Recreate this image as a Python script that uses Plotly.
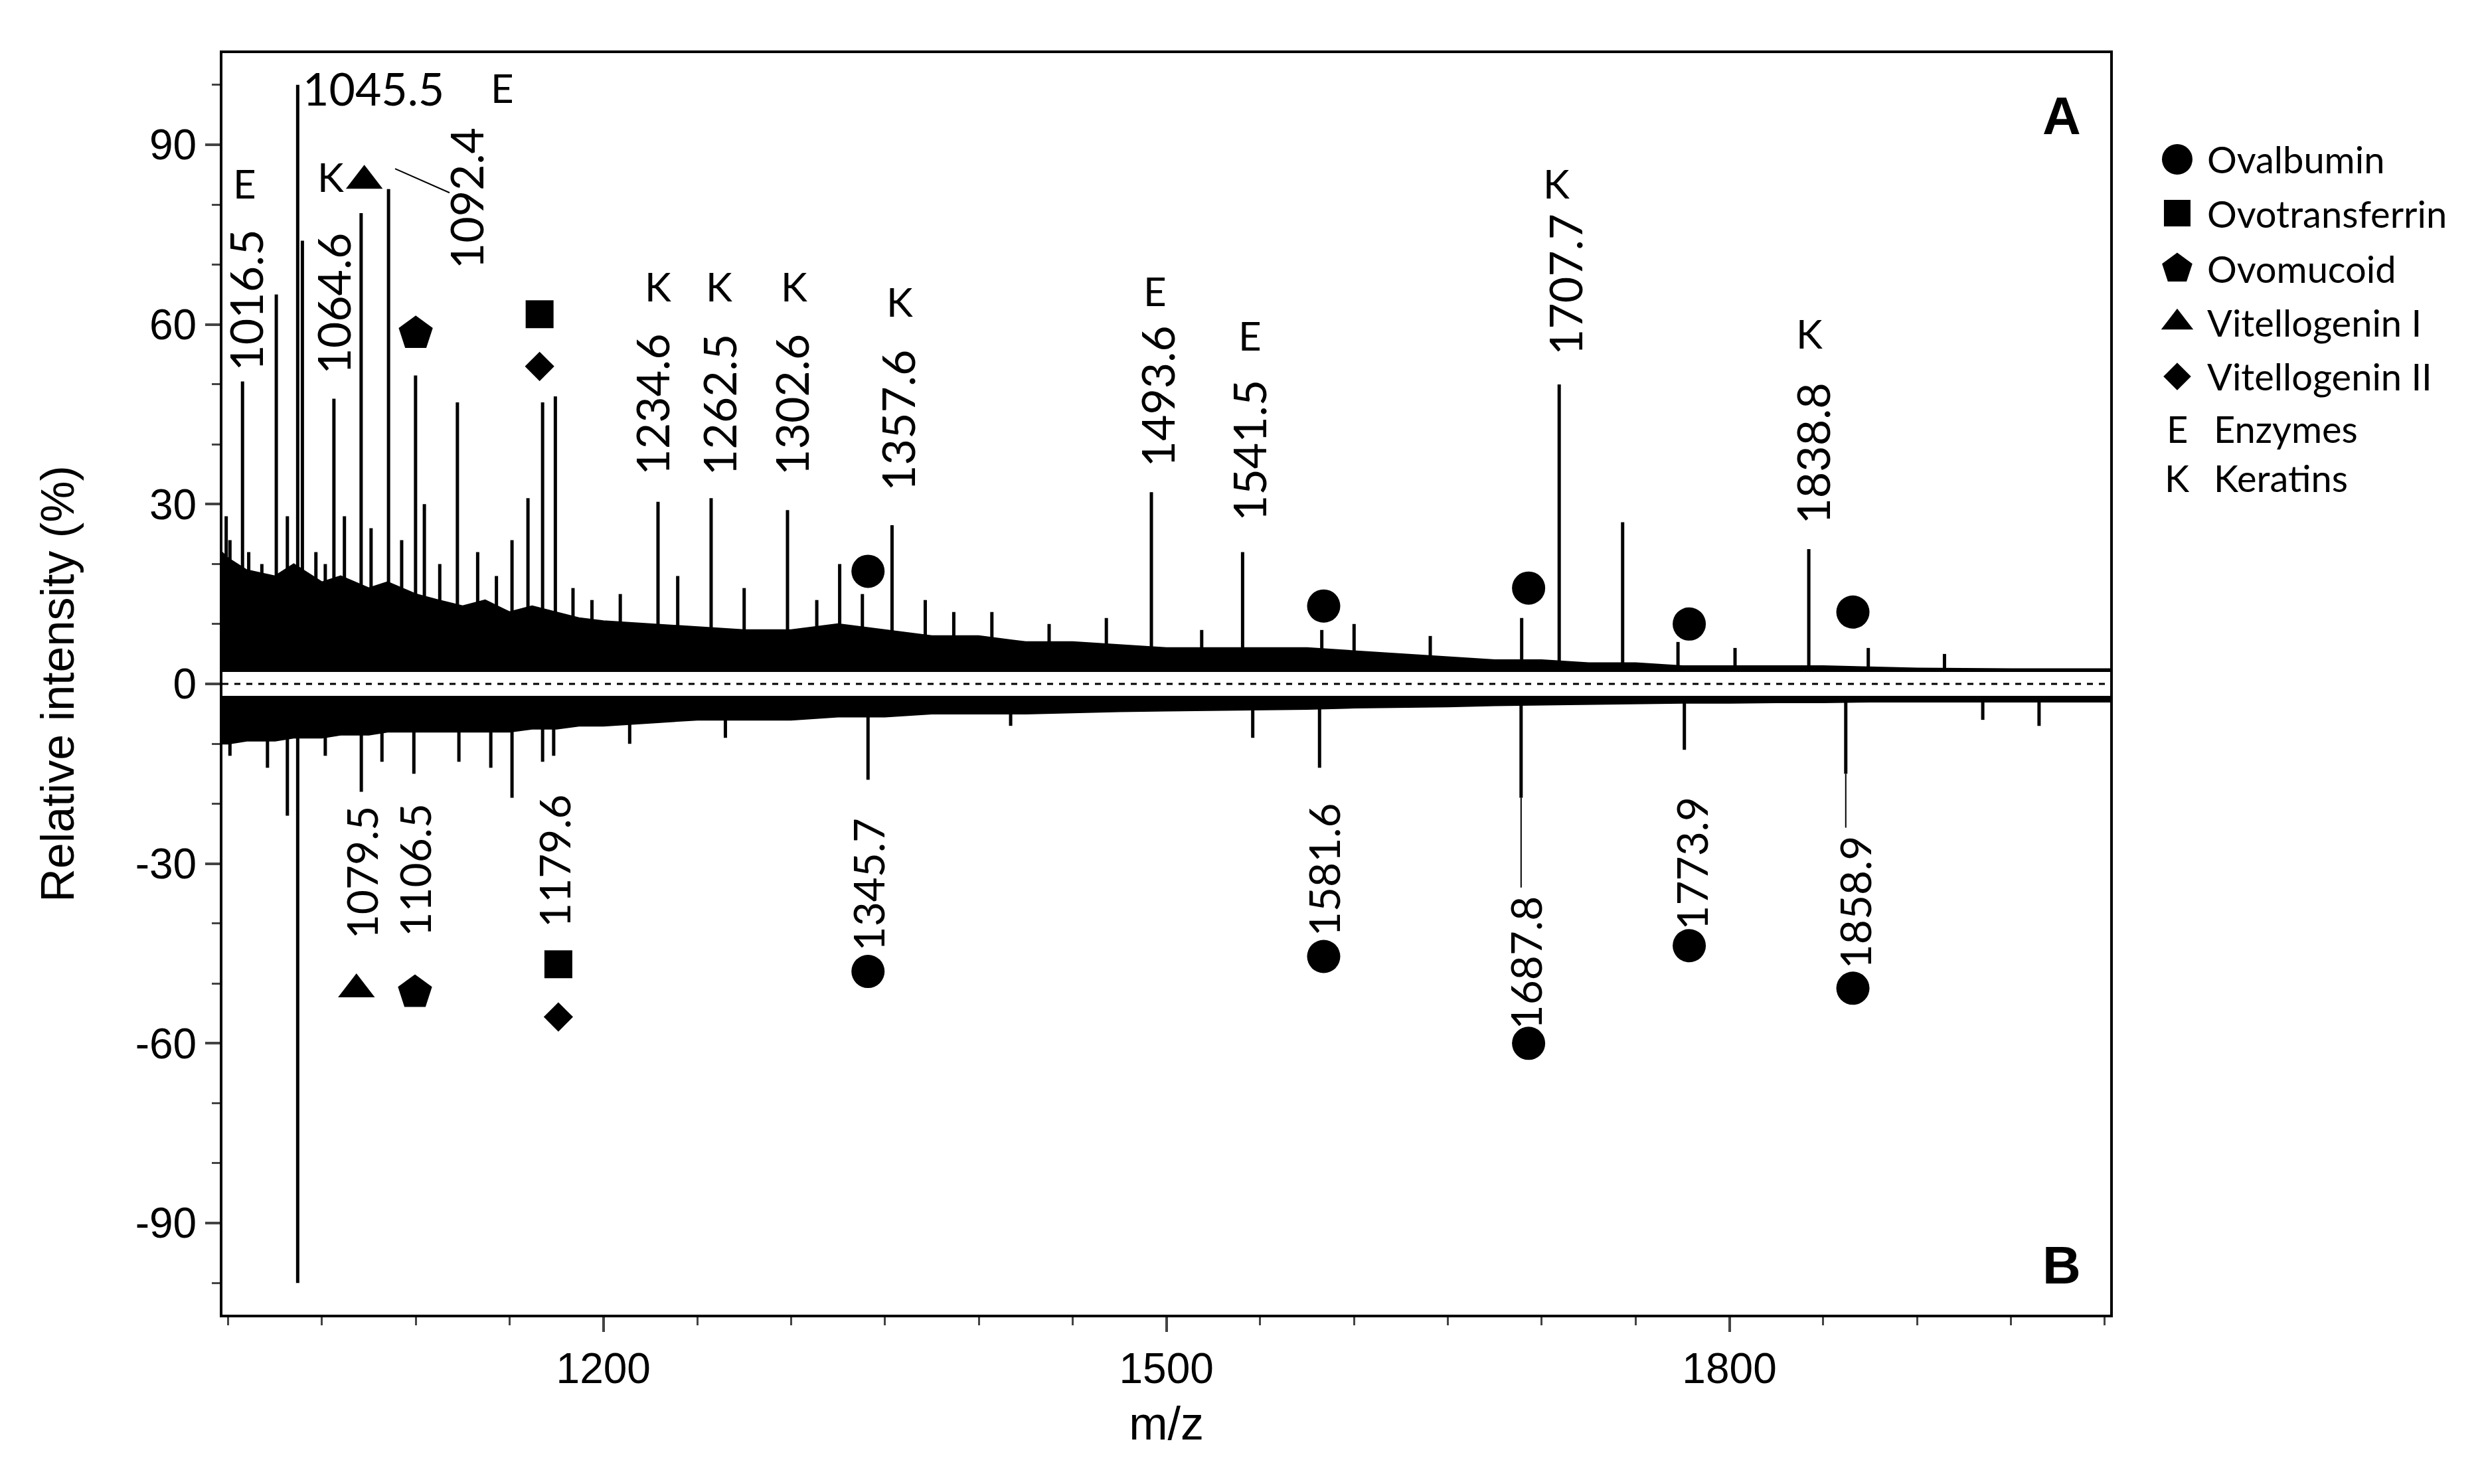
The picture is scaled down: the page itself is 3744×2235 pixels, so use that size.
import plotly.graph_objects as go

# ---- data ----
# background envelope of the upper (A) and lower (B) spectra
env_mz = [990, 1000, 1010, 1025, 1035, 1050, 1060, 1075, 1085, 1100, 1112, 1125, 1137, 1150,
          1162, 1175, 1187, 1200, 1225, 1250, 1275, 1300, 1325, 1350, 1375, 1400, 1425, 1450,
          1475, 1500, 1525, 1550, 1575, 1600, 1625, 1650, 1675, 1700, 1725, 1750, 1775, 1800,
          1825, 1850, 1875, 1900, 1950, 2005]
env_top = [24, 21, 19, 18, 20, 17, 18, 16, 17, 15, 14, 13, 14, 12, 13, 12, 11, 10.5, 10, 9.5,
           9, 9, 10, 9, 8, 8, 7, 7, 6.5, 6, 6, 6, 6, 5.5, 5, 4.5, 4, 4, 3.5, 3.5, 3, 3, 3, 3,
           2.8, 2.6, 2.5, 2.5]
env_bot = [-10, -10, -9.5, -9.5, -9, -9, -8.5, -8.5, -8, -8, -8, -8, -8, -8, -7.5, -7.5, -7,
           -7, -6.5, -6, -6, -6, -5.5, -5.5, -5, -5, -5, -4.8, -4.6, -4.5, -4.4, -4.3, -4.2,
           -4, -3.9, -3.8, -3.6, -3.5, -3.4, -3.3, -3.2, -3.2, -3.1, -3.1, -3, -3, -3, -3]

# stick peaks, at the positions where they sit on the drawn m/z axis
top_mz = [999, 1001, 1007.7, 1011, 1018, 1025.7, 1031.6, 1037.1, 1039.6, 1046.8, 1051.8,
          1056.4, 1062, 1070.9, 1076.2, 1085.5, 1092.5, 1099.9, 1104.6, 1112.8, 1122.2, 1133,
          1143, 1151.3, 1159.8, 1167.6, 1174.4, 1183.8, 1193.9, 1209, 1229.1, 1239.6, 1257.4,
          1275, 1298.1, 1313.7, 1325.9, 1338, 1353.8, 1371.5, 1386.7, 1407, 1437.5, 1468,
          1492, 1518.8, 1540.6, 1582.8, 1600, 1640.6, 1689.3, 1709.3, 1743.1, 1772.6, 1803,
          1842.3, 1874, 1914.6]
top_int = [28, 24, 50.5, 22, 20, 65, 28, 100, 74, 22, 20, 47.6, 28, 78.6, 26, 82.6, 24,
           51.5, 30, 20, 47, 22, 18, 24, 31, 47, 48, 16, 14, 15, 30.4, 18, 31, 16, 29, 14, 20,
           15, 26.5, 14, 12, 12, 10, 11, 32, 9, 22, 9, 10, 8, 11, 50, 27, 7, 6, 22.5, 6, 5]
bot_mz = [1001, 1021, 1031.6, 1037.1, 1051.8, 1071, 1082, 1099, 1123, 1140, 1151.3, 1167.6,
          1173.5, 1214, 1265, 1341, 1417, 1546, 1581.6, 1689, 1776, 1862, 1935, 1965]
bot_int = [-12, -14, -22, -100, -12, -18, -13, -15, -13, -14, -19, -13, -12, -10, -9, -16,
           -7, -9, -14, -19, -11, -15, -6, -7]

# peak labels
top_labels = ["1016.5", "1064.6", "1092.4", "1234.6", "1262.5", "1302.6", "1357.6",
              "1493.6", "1541.5", "1707.7", "1838.8"]
top_lab_x = [1009.4, 1055.6, 1126.5, 1225.6, 1261.5, 1300, 1356.4, 1495, 1543.6, 1712, 1844.4]
top_lab_y = [64, 63.5, 81, 46.6, 46.6, 46.6, 44, 48, 39, 66.7, 38.4]
bot_labels = ["1079.5", "1106.5", "1179.6", "1345.7", "1581.6", "1687.8", "1773.9", "1858.9"]
bot_lab_x = [1071, 1099.6, 1173.5, 1341, 1583.8, 1691.5, 1780, 1866.7]
bot_lab_y = [-31.5, -31, -29.5, -33.5, -31, -46.5, -30, -36.5]

# classification letters (E = enzyme, K = keratin)
tag_text = ["E", "E", "K", "E", "K", "K", "K", "K", "E", "E", "K", "K"]
tag_x = [1009, 1072, 1054.7, 1146, 1229, 1261.5, 1301.7, 1358, 1494, 1544.5, 1707.7, 1842.7]
tag_y = [83.6, 108.5, 84.7, 99.5, 66.4, 66.4, 66.4, 63.8, 65.6, 58.2, 83.6, 58.5]

# protein markers
ova_x = [1341, 1583.8, 1693, 1778.6, 1865.8, 1341, 1583.8, 1693, 1778.6, 1865.8]
ova_y = [18.8, 13, 16, 10, 12, -48, -45.5, -60, -43.7, -50.8]
tri_x = [1072.6, 1068.4]
tri_y = [84, -51]
pent_x = [1100, 1099.6]
pent_y = [58.5, -51.5]
sq_x = [1166, 1176]
sq_y = [61.7, -46.8]
dia_x = [1166, 1176]
dia_y = [53, -55.6]

legend_names = ["Ovalbumin", "Ovotransferrin", "Ovomucoid", "Vitellogenin I", "Vitellogenin II"]
legend_symbols = ["circle", "square", "pentagon", "triangle-up", "diamond"]
legend_sizes = [46, 40, 48, 42, 32]
legend_letters = ["E", "K"]
legend_letter_names = ["Enzymes", "Keratins"]
y_ticks = [-90, -60, -30, 0, 30, 60, 90]


def sticks(xs, ys, base):
    sx, sy = [], []
    for x, y in zip(xs, ys):
        sx += [x, x, None]
        sy += [base, y, None]
    return sx, sy


fig = go.Figure()

# upper spectrum
fig.add_trace(go.Scatter(x=env_mz, y=[2] * len(env_mz), mode="lines", line=dict(width=0),
                         showlegend=False))
fig.add_trace(go.Scatter(x=env_mz, y=env_top, mode="lines", line=dict(color="black", width=2),
                         fill="tonexty", fillcolor="black", showlegend=False))
sx, sy = sticks(top_mz, top_int, 2)
fig.add_trace(go.Scatter(x=sx, y=sy, mode="lines", line=dict(color="black", width=5),
                         showlegend=False))

# lower spectrum
fig.add_trace(go.Scatter(x=env_mz, y=[-2] * len(env_mz), mode="lines", line=dict(width=0),
                         showlegend=False))
fig.add_trace(go.Scatter(x=env_mz, y=env_bot, mode="lines", line=dict(color="black", width=2),
                         fill="tonexty", fillcolor="black", showlegend=False))
sx, sy = sticks(bot_mz, bot_int, -2)
fig.add_trace(go.Scatter(x=sx, y=sy, mode="lines", line=dict(color="black", width=5),
                         showlegend=False))

# leader lines
fig.add_trace(go.Scatter(x=[1089, 1118, None, 1689, 1689, None, 1862, 1862],
                         y=[86, 82, None, -19, -34, None, -15, -24],
                         mode="lines", line=dict(color="black", width=2), showlegend=False))

# markers
for xs, ys, sym, size in [(ova_x, ova_y, "circle", 50), (tri_x, tri_y, "triangle-up", 48),
                          (pent_x, pent_y, "pentagon", 54), (sq_x, sq_y, "square", 42),
                          (dia_x, dia_y, "diamond", 34)]:
    fig.add_trace(go.Scatter(x=xs, y=ys, mode="markers", cliponaxis=False,
                             marker=dict(symbol=sym, size=size, color="black"),
                             showlegend=False))

# labels
font_lab = dict(family="Lato, Open Sans, sans-serif", size=68, color="black")
for t, x, y in zip(top_labels, top_lab_x, top_lab_y):
    fig.add_annotation(x=x, y=y, text=t, textangle=-90, showarrow=False, font=font_lab)
for t, x, y in zip(bot_labels, bot_lab_x, bot_lab_y):
    fig.add_annotation(x=x, y=y, text=t, textangle=-90, showarrow=False,
                       font=dict(font_lab, size=64))
fig.add_annotation(x=1039, y=99.5, text="1045.5", showarrow=False, xanchor="left",
                   font=font_lab)
for t, x, y in zip(tag_text, tag_x, tag_y):
    fig.add_annotation(x=x, y=y, text=t, showarrow=False, font=dict(font_lab, size=60))
fig.add_annotation(xref="x domain", yref="y domain", x=0.985, y=0.975, text="<b>A</b>",
                   showarrow=False, xanchor="right", yanchor="top",
                   font=dict(family="Liberation Sans", size=80, color="black"))
fig.add_annotation(xref="x domain", yref="y domain", x=0.985, y=0.015, text="<b>B</b>",
                   showarrow=False, xanchor="right", yanchor="bottom",
                   font=dict(family="Liberation Sans", size=80, color="black"))

# custom legend in a side axis (units: reference pixels)
leg_y = [97, 131, 166, 200, 234, 267, 298]
for name, sym, size, y in zip(legend_names, legend_symbols, legend_sizes, leg_y):
    fig.add_trace(go.Scatter(x=[1370], y=[y], mode="markers", xaxis="x2", yaxis="y2",
                             marker=dict(symbol=sym, size=size, color="black"),
                             showlegend=False))
    fig.add_annotation(x=1388, y=y, xref="x2", yref="y2", text=name, showarrow=False,
                       xanchor="left", font=dict(font_lab, size=56))
for letter, name, y in zip(legend_letters, legend_letter_names, leg_y[5:]):
    fig.add_annotation(x=1370, y=y, xref="x2", yref="y2", text=letter, showarrow=False,
                       font=dict(font_lab, size=56))
    fig.add_annotation(x=1392, y=y, xref="x2", yref="y2", text=name, showarrow=False,
                       xanchor="left", font=dict(font_lab, size=56))

# dashed zero line
fig.add_shape(type="line", xref="x domain", yref="y", x0=0, x1=1, y0=0, y1=0,
              line=dict(color="black", width=3, dash="dash"))

axis_font = dict(family="Liberation Sans, Arial", size=64, color="black")
fig.update_layout(
    width=3744, height=2235,
    plot_bgcolor="white", paper_bgcolor="white",
    margin=dict(l=327, r=20, t=72, b=263),
    xaxis=dict(domain=[0, 0.837], range=[997, 2003], tickvals=[1200, 1500, 1800],
               ticks="outside", ticklen=22, tickwidth=4, tickfont=axis_font,
               showline=True, linecolor="black", linewidth=4, mirror=True, showgrid=False,
               zeroline=False,
               minor=dict(dtick=50, ticks="outside", ticklen=12, tickwidth=3),
               title=dict(text="m/z", font=dict(axis_font, size=70), standoff=24)),
    yaxis=dict(range=[-105.3, 105.3], tickvals=y_ticks, ticktext=[str(v) for v in y_ticks],
               ticks="outside", ticklen=22, tickwidth=4, tickfont=axis_font,
               showline=True, linecolor="black", linewidth=4, mirror=True, showgrid=False,
               zeroline=False,
               minor=dict(dtick=10, ticks="outside", ticklen=12, tickwidth=3),
               title=dict(text="Relative intensity (%)", font=dict(axis_font, size=70),
                          standoff=70)),
    xaxis2=dict(domain=[0.837, 1], range=[1328, 1559], visible=False, anchor="y2"),
    yaxis2=dict(domain=[0, 1], range=[826, 30], visible=False, anchor="x2"),
)

fig.write_html("out.html")
